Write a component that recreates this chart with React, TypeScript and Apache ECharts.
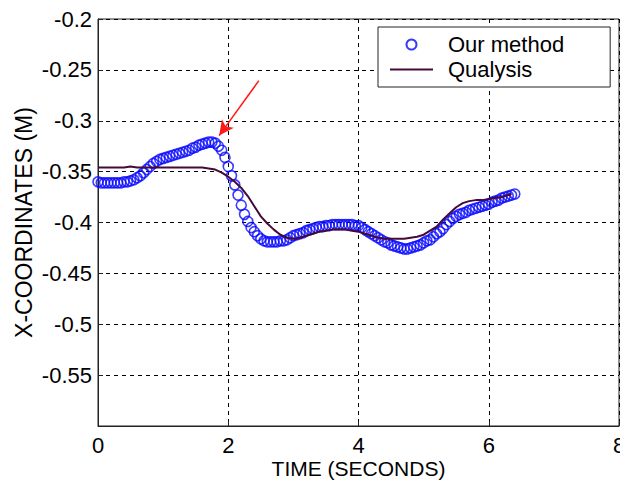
import React, { useEffect, useRef } from "react";
import * as echarts from "echarts";

const FONT = "'Liberation Sans', Arial, sans-serif";

const OUR_TIME = [
  0.0, 0.05, 0.1, 0.15, 0.2, 0.25, 0.3, 0.35, 0.4, 0.45, 0.5, 0.55, 0.6, 0.65, 0.7, 0.75, 0.8, 0.85, 0.9, 0.95,
  1.0, 1.05, 1.1, 1.15, 1.2, 1.25, 1.3, 1.35, 1.4, 1.45, 1.5, 1.55, 1.6, 1.65, 1.7, 1.75, 1.8, 1.85, 1.9, 1.95,
  2.0, 2.05, 2.1, 2.15, 2.2, 2.25, 2.3, 2.35, 2.4, 2.45, 2.5, 2.55, 2.6, 2.65, 2.7, 2.75, 2.8, 2.85, 2.9, 2.95,
  3.0, 3.05, 3.1, 3.15, 3.2, 3.25, 3.3, 3.35, 3.4, 3.45, 3.5, 3.55, 3.6, 3.65, 3.7, 3.75, 3.8, 3.85, 3.9, 3.95,
  4.0, 4.05, 4.1, 4.15, 4.2, 4.25, 4.3, 4.35, 4.4, 4.45, 4.5, 4.55, 4.6, 4.65, 4.7, 4.75, 4.8, 4.85, 4.9, 4.95,
  5.0, 5.05, 5.1, 5.15, 5.2, 5.25, 5.3, 5.35, 5.4, 5.45, 5.5, 5.55, 5.6, 5.65, 5.7, 5.75, 5.8, 5.85, 5.9, 5.95,
  6.0, 6.05, 6.1, 6.15, 6.2, 6.25, 6.3, 6.35, 6.4,
];
const OUR_VALUES = [
  -0.360, -0.361, -0.361, -0.361, -0.361, -0.361, -0.361, -0.361, -0.360, -0.360,
  -0.359, -0.358, -0.356, -0.354, -0.351, -0.348, -0.345, -0.342, -0.340, -0.338,
  -0.337, -0.336, -0.335, -0.334, -0.333, -0.332, -0.331, -0.330, -0.329, -0.327,
  -0.326, -0.324, -0.323, -0.322, -0.321, -0.321, -0.322, -0.325, -0.329, -0.336,
  -0.345, -0.354, -0.363, -0.373, -0.383, -0.392, -0.399, -0.405, -0.409, -0.413,
  -0.416, -0.418, -0.419, -0.419, -0.419, -0.419, -0.418, -0.418, -0.417, -0.415,
  -0.413, -0.412, -0.411, -0.410, -0.408, -0.407, -0.406, -0.405, -0.404, -0.404,
  -0.403, -0.403, -0.402, -0.402, -0.402, -0.402, -0.402, -0.402, -0.402, -0.403,
  -0.403, -0.405, -0.407, -0.409, -0.411, -0.413, -0.415, -0.417, -0.419, -0.420,
  -0.422, -0.423, -0.424, -0.425, -0.426, -0.426, -0.425, -0.424, -0.423, -0.422,
  -0.420, -0.418, -0.417, -0.414, -0.411, -0.409, -0.406, -0.402, -0.399, -0.396,
  -0.394, -0.392, -0.391, -0.390, -0.388, -0.387, -0.386, -0.385, -0.384, -0.383,
  -0.382, -0.380, -0.379, -0.378, -0.376, -0.375, -0.374, -0.373, -0.372,
];

const QUALYSIS_TIME = [
  0.0, 0.2, 0.4, 0.5, 0.6, 0.8, 1.0, 1.2, 1.4, 1.6, 1.7, 1.8, 1.9, 2.0, 2.1, 2.2, 2.3, 2.4, 2.5, 2.6,
  2.7, 2.8, 2.9, 3.0, 3.1, 3.2, 3.3, 3.4, 3.5, 3.6, 3.7, 3.8, 3.9, 4.0, 4.1, 4.2, 4.3, 4.4, 4.5, 4.6,
  4.7, 4.8, 4.9, 5.0, 5.1, 5.2, 5.3, 5.4, 5.5, 5.6, 5.7, 5.8, 5.9, 6.0, 6.1, 6.2, 6.3, 6.35,
];
const QUALYSIS_VALUES = [
  -0.346, -0.346, -0.346, -0.345, -0.346, -0.346, -0.346, -0.346, -0.346, -0.346,
  -0.347, -0.348, -0.351, -0.355, -0.360, -0.366, -0.374, -0.384, -0.394, -0.401,
  -0.407, -0.412, -0.415, -0.416, -0.415, -0.413, -0.411, -0.409, -0.408, -0.407,
  -0.407, -0.407, -0.408, -0.409, -0.411, -0.413, -0.415, -0.416, -0.416, -0.416,
  -0.416, -0.415, -0.414, -0.412, -0.408, -0.404, -0.397, -0.391, -0.385, -0.381,
  -0.379, -0.378, -0.378, -0.377, -0.376, -0.375, -0.373, -0.372,
];

const X_TICKS = [0, 2, 4, 6, 8];
const Y_MIN = -0.6;
const Y_MAX = -0.2;
const Y_STEP = 0.05;

// Arrow annotation (data coordinates): tail and head
const ARROW_TAIL = [2.47, -0.2606];
const ARROW_HEAD = [1.86, -0.3146];

const LINE_COLOR = "#450a38";
const CIRCLE_COLOR = "#0a0aff";

export default function App() {
  const ref = useRef<HTMLDivElement>(null);
  useEffect(() => {
    if (!ref.current) return;
    const chart = echarts.init(ref.current, null, { renderer: "svg" });
    const ourData = OUR_TIME.map((t, i) => [t, OUR_VALUES[i]]);
    const qData = QUALYSIS_TIME.map((t, i) => [t, QUALYSIS_VALUES[i]]);
    chart.setOption({
      animation: false,
      backgroundColor: "#fff",
      grid: {
        left: 98,
        right: 1,
        top: 19,
        bottom: 55,
        outerBoundsMode: "none",
        containLabel: false,
        show: true,
        borderColor: "#222",
        borderWidth: 1,
        backgroundColor: "transparent",
      },
      legend: {
        orient: "vertical",
        left: 378,
        top: 27,
        padding: [5, 46, 5, 12],
        itemWidth: 43,
        itemHeight: 10,
        itemGap: 0,
        symbolKeepAspect: true,
        borderColor: "#222",
        borderWidth: 1,
        backgroundColor: "#fff",
        textStyle: {
          fontFamily: FONT,
          fontSize: 22,
          color: "#000",
          lineHeight: 25,
          padding: [0, 0, 0, 10],
        },
        data: [
          { name: "Our method" },
          { name: "Qualysis", icon: "path://M0,0H43V2H0Z" },
        ],
      },
      xAxis: {
        type: "value",
        min: X_TICKS[0],
        max: X_TICKS[X_TICKS.length - 1],
        interval: 2,
        name: "TIME (SECONDS)",
        nameLocation: "middle",
        nameGap: 32,
        nameMoveOverlap: false,
        nameTextStyle: { fontFamily: FONT, fontSize: 21, color: "#000" },
        axisLine: { show: true, lineStyle: { color: "#222", width: 1 } },
        axisTick: { show: true, inside: true, length: 5, lineStyle: { color: "#222" } },
        axisLabel: { fontFamily: FONT, fontSize: 22, color: "#000", margin: 8, hideOverlap: false, showMaxLabel: true },
        splitLine: { show: true, lineStyle: { color: "#000", type: [4, 4], width: 1 } },
      },
      yAxis: {
        type: "value",
        min: Y_MIN,
        max: Y_MAX,
        interval: Y_STEP,
        name: "X-COORDINATES (M)",
        nameLocation: "middle",
        nameGap: 63,
        nameMoveOverlap: false,
        nameRotate: 90,
        nameTextStyle: { fontFamily: FONT, fontSize: 23, color: "#000" },
        axisLine: { show: true, lineStyle: { color: "#222", width: 1 } },
        axisTick: { show: true, inside: true, length: 5, lineStyle: { color: "#222" } },
        axisLabel: {
          fontFamily: FONT,
          fontSize: 22,
          color: "#000",
          margin: 6,
          formatter: (v: number) => (Math.abs(v - Y_MIN) < 1e-9 ? "" : String(parseFloat(v.toFixed(2)))),
        },
        splitLine: { show: true, lineStyle: { color: "#000", type: [4, 4], width: 1 } },
      },
      series: [
        {
          name: "Our method",
          type: "scatter",
          data: ourData,
          symbol: "circle",
          symbolSize: 10,
          itemStyle: { color: "transparent", borderColor: CIRCLE_COLOR, borderWidth: 1.6 },
          z: 2,
        },
        {
          name: "Qualysis",
          type: "line",
          data: qData,
          symbol: "none",
          smooth: false,
          lineStyle: { color: LINE_COLOR, width: 2 },
          itemStyle: { color: LINE_COLOR },
          z: 3,
          markLine: {
            silent: true,
            animation: false,
            label: { show: false },
            lineStyle: { color: "#ff1a1a", width: 1.5, type: "solid" },
            symbolSize: [11, 15],
            data: [
              [
                { coord: ARROW_TAIL, symbol: "none" },
                { coord: ARROW_HEAD, symbol: "arrow" },
              ],
            ],
          },
        },
      ],
    });
    return () => chart.dispose();
  }, []);
  return (
    <div
      ref={ref}
      style={{ position: "fixed", left: 0, top: 0, width: 620, height: 481, background: "#fff" }}
    />
  );
}
